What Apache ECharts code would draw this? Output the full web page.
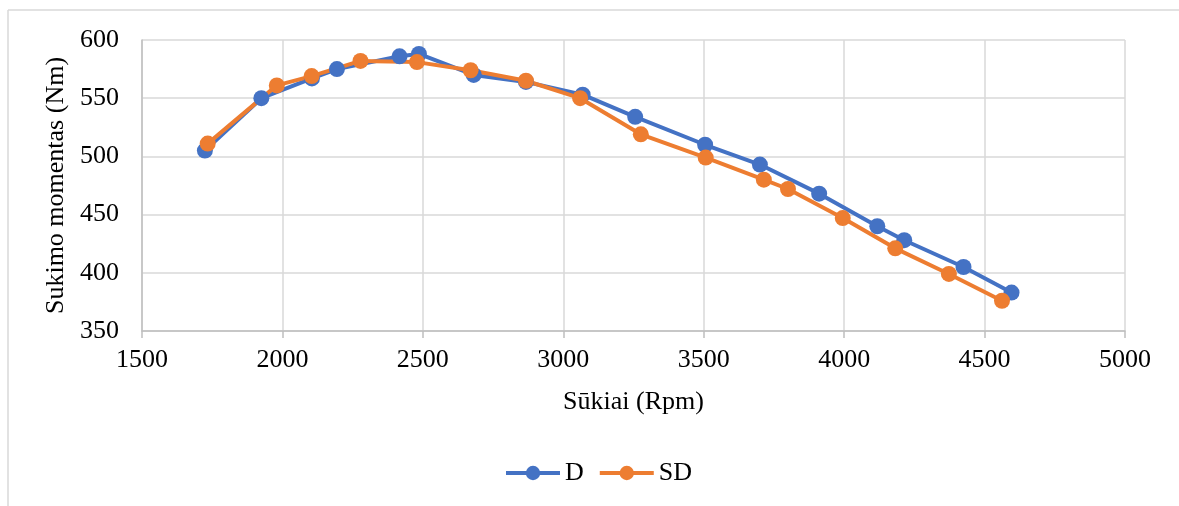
<!DOCTYPE html>
<html>
<head>
<meta charset="utf-8">
<script src="https://cdn.jsdelivr.net/npm/echarts@6/dist/echarts.min.js"></script>
<style>
  html, body { margin: 0; padding: 0; background: #fff; }
  #chart { width: 1179px; height: 506px; }
</style>
</head>
<body>
<div id="chart"></div>
<script>
// Engine speed (rpm) and torque (Nm) for the two fuels
const rpmD = [1724, 1925, 2105, 2194, 2417, 2486, 2681, 2867, 3069, 3256, 3505, 3700, 3911, 4118, 4214, 4425, 4596];
const torqueD = [505, 550, 567, 575, 586, 588, 570, 564, 553, 534, 510, 493, 468, 440, 428, 405, 383];

const rpmSD = [1734, 1980, 2104, 2278, 2479, 2670, 2867, 3060, 3276, 3507, 3714, 3800, 3995, 4182, 4373, 4562];
const torqueSD = [511, 561, 569, 582, 581, 574, 565, 550, 519, 499, 480, 472, 447, 421, 399, 376];

const seriesNames = ['D', 'SD'];
const seriesColors = ['#4472C4', '#ED7D31'];

const xTitle = 'Sūkiai (Rpm)';
const yTitle = 'Sukimo momentas (Nm)';

const pairs = (xs, ys) => xs.map((x, i) => [x, ys[i]]);

const font = 'Liberation Serif, Times New Roman, serif';
const chart = echarts.init(document.getElementById('chart'));

const makeSeries = (i, xs, ys) => ({
  name: seriesNames[i],
  type: 'line',
  data: pairs(xs, ys),
  color: seriesColors[i],
  symbol: 'circle',
  symbolSize: 16,
  lineStyle: { width: 4, color: seriesColors[i] },
  itemStyle: { color: seriesColors[i] }
});

chart.setOption({
  animation: false,
  backgroundColor: '#fff',
  textStyle: { fontFamily: font },
  graphic: [
    { type: 'line', shape: { x1: 8, y1: 10, x2: 1179, y2: 10 }, style: { stroke: '#d9d9d9', lineWidth: 1.5 } },
    { type: 'line', shape: { x1: 8, y1: 10, x2: 8, y2: 506 }, style: { stroke: '#d9d9d9', lineWidth: 1.5 } }
  ],
  grid: { left: 142, right: 54, top: 40, bottom: 175 },
  legend: {
    bottom: 15,
    left: 499,
    itemWidth: 54,
    itemHeight: 18,
    itemGap: 14,
    lineStyle: { width: 4 },
    textStyle: { fontFamily: font, fontSize: 26, color: '#000' },
    data: seriesNames
  },
  xAxis: {
    type: 'value',
    min: 1500, max: 5000, interval: 500,
    name: xTitle,
    nameLocation: 'middle',
    nameGap: 58,
    nameTextStyle: { fontFamily: font, fontSize: 26, color: '#000' },
    axisLine: { show: true, lineStyle: { color: '#bfbfbf', width: 1.5 } },
    axisTick: { show: true, length: 7, lineStyle: { color: '#bfbfbf', width: 1.5 } },
    axisLabel: { fontFamily: font, fontSize: 26, color: '#000', margin: 16, formatter: v => String(v) },
    splitLine: { show: true, lineStyle: { color: '#d9d9d9', width: 1.5 } }
  },
  yAxis: {
    type: 'value',
    min: 350, max: 600, interval: 50,
    name: yTitle,
    nameLocation: 'middle',
    nameGap: 70,
    nameTextStyle: { fontFamily: font, fontSize: 26, color: '#000' },
    axisLine: { show: true, lineStyle: { color: '#bfbfbf', width: 1.5 } },
    axisTick: { show: false },
    axisLabel: { fontFamily: font, fontSize: 26, color: '#000', margin: 23, formatter: v => String(v) },
    splitLine: { show: true, lineStyle: { color: '#d9d9d9', width: 1.5 } }
  },
  series: [
    makeSeries(0, rpmD, torqueD),
    makeSeries(1, rpmSD, torqueSD)
  ]
});
</script>
</body>
</html>
